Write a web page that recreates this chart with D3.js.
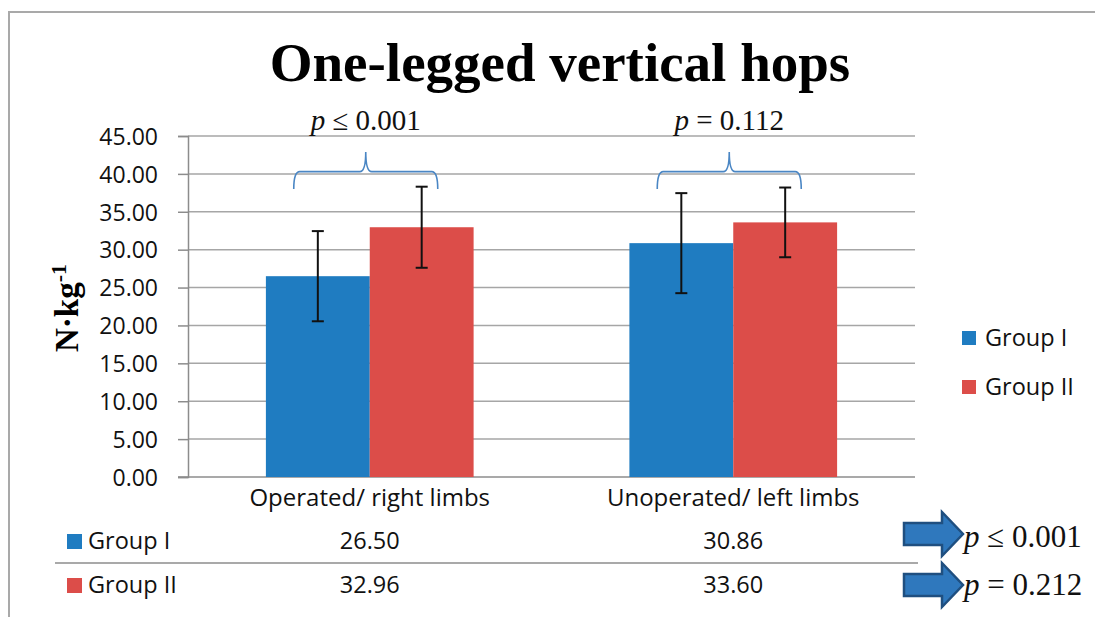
<!DOCTYPE html>
<html><head><meta charset="utf-8">
<script src="https://cdn.jsdelivr.net/npm/d3@7"></script>
<style>body{margin:0;background:#fff}svg{display:block}</style>
</head><body>
<svg id="c" width="1095" height="617"></svg>
<script>
// ---- data ----
const categories = ["Operated/ right limbs", "Unoperated/ left limbs"];
const seriesNames = ["Group I", "Group II"];
const groupI  = [26.50, 30.86];
const groupII = [32.96, 33.60];
const sdGroupI  = [5.95, 6.6];
const sdGroupII = [5.35, 4.6];
const yTicks = [0, 5, 10, 15, 20, 25, 30, 35, 40, 45];
const bracketLabels = ["p ≤ 0.001", "p = 0.112"];
const rowPLabels = ["p ≤ 0.001", "p = 0.212"];
const colors = ["#1f7cc1", "#dc4d49"];

const svg = d3.select("#c");
const M = {l:188, r:915, t:136, b:477};
const x = d3.scaleBand().domain(categories).range([M.l, M.r]).paddingInner(0).paddingOuter(0);
const sub = d3.scaleBand().domain(seriesNames).range([0, x.bandwidth()]).paddingOuter(0.75).paddingInner(0);
const y = d3.scaleLinear().domain([0, 45]).range([M.b, M.t]);
const values = [groupI, groupII];
const sds = [sdGroupI, sdGroupII];

// border
svg.append("path").attr("d","M9,617V12H1095").attr("fill","none").attr("stroke","#a9a9a9").attr("stroke-width",2);

// title
svg.append("text").attr("x",560).attr("y",81).attr("text-anchor","middle")
  .attr("font-family","Liberation Serif, serif").attr("font-weight","bold").attr("font-size",55)
  .text("One-legged vertical hops");

// gridlines
svg.append("g").selectAll("line").data(yTicks.filter(d=>d>0)).join("line")
  .attr("x1",M.l).attr("x2",M.r).attr("y1",d=>y(d)).attr("y2",d=>y(d))
  .attr("stroke","#a6a6a6").attr("stroke-width",1.5);

// y axis
const ya = svg.append("g").attr("transform",`translate(${M.l},0)`)
  .call(d3.axisLeft(y).tickValues(yTicks).tickFormat(d3.format(".2f")).tickSize(10).tickPadding(20));
ya.select(".domain").attr("stroke","#8c8c8c").attr("stroke-width",1.5);
ya.selectAll(".tick line").attr("stroke","#8c8c8c").attr("stroke-width",1.5);
ya.selectAll("text").attr("font-family","Open Sans, sans-serif").attr("font-size",23).attr("fill","#111").attr("dy","0.36em");

// x axis baseline
svg.append("line").attr("x1",M.l-10).attr("x2",M.r).attr("y1",M.b).attr("y2",M.b)
  .attr("stroke","#8c8c8c").attr("stroke-width",1.5);

// y label
svg.append("text").attr("transform","translate(78,308) rotate(-90)").attr("text-anchor","middle")
  .attr("font-family","Liberation Serif, serif").attr("font-weight","bold").attr("font-size",33)
  .html('N·kg<tspan dy="-12" font-size="22">-1</tspan>');

// bars
const gB = svg.append("g");
seriesNames.forEach((s,si)=>{
  gB.selectAll(".b"+si).data(categories).join("rect")
    .attr("x",c=>x(c)+sub(s)).attr("width",sub.bandwidth())
    .attr("y",(c,i)=>y(values[si][i])).attr("height",(c,i)=>y(0)-y(values[si][i]))
    .attr("fill",colors[si]);
});
// error bars
seriesNames.forEach((s,si)=>{
  categories.forEach((c,i)=>{
    const cx = x(c)+sub(s)+sub.bandwidth()/2;
    const hi = y(values[si][i]+sds[si][i]), lo = y(values[si][i]-sds[si][i]);
    const g = svg.append("g").attr("stroke","#111").attr("stroke-width",2);
    g.append("line").attr("x1",cx).attr("x2",cx).attr("y1",hi).attr("y2",lo);
    g.append("line").attr("x1",cx-6).attr("x2",cx+6).attr("y1",hi).attr("y2",hi);
    g.append("line").attr("x1",cx-6).attr("x2",cx+6).attr("y1",lo).attr("y2",lo);
  });
});

// braces
categories.forEach((c,i)=>{
  const cc = x(c)+x.bandwidth()/2;
  const x0 = cc-76, x1 = cc+68, xm = cc-4;
  const yE = y(38.0), yH = y(40.3), yP = y(42.9);
  const r = 6;
  const p = d3.path();
  p.moveTo(x0,yE);
  p.quadraticCurveTo(x0,yH,x0+r,yH);
  p.lineTo(xm-r,yH);
  p.quadraticCurveTo(xm,yH,xm,yP);
  p.quadraticCurveTo(xm,yH,xm+r,yH);
  p.lineTo(x1-r,yH);
  p.quadraticCurveTo(x1,yH,x1,yE);
  svg.append("path").attr("d",p.toString()).attr("fill","none").attr("stroke","#4a86c4").attr("stroke-width",1.6);
  const parts = bracketLabels[i].split(" ");
  const t = svg.append("text").attr("x",xm).attr("y",130).attr("text-anchor","middle")
    .attr("font-family","Liberation Serif, serif").attr("font-size",29).attr("fill","#111");
  t.append("tspan").attr("font-style","italic").text(parts[0]);
  t.append("tspan").text(" "+parts[1]+" "+parts[2]);
});

// category labels
svg.append("g").selectAll("text").data(categories).join("text")
  .attr("x",c=>x(c)+x.bandwidth()/2).attr("y",506).attr("text-anchor","middle")
  .attr("font-family","Open Sans, sans-serif").attr("font-size",24).attr("fill","#111").text(c=>c);

// legend
seriesNames.forEach((s,i)=>{
  const ly = 346 + i*49;
  svg.append("rect").attr("x",962).attr("y",ly-15).attr("width",14).attr("height",14).attr("fill",colors[i]);
  svg.append("text").attr("x",985).attr("y",ly).attr("font-family","Open Sans, sans-serif")
    .attr("font-size",23.5).attr("fill","#111").text(s);
});

// data table
svg.append("line").attr("x1",55).attr("x2",918).attr("y1",563).attr("y2",563).attr("stroke","#8c8c8c").attr("stroke-width",1.5);
seriesNames.forEach((s,i)=>{
  const by = 549 + i*44;
  svg.append("rect").attr("x",67).attr("y",by-15).attr("width",15).attr("height",15).attr("fill",colors[i]);
  svg.append("text").attr("x",88).attr("y",by).attr("font-family","Open Sans, sans-serif")
    .attr("font-size",23.5).attr("fill","#111").text(s);
  svg.append("g").selectAll("text").data(categories).join("text")
    .attr("x",c=>x(c)+x.bandwidth()/2).attr("y",by).attr("text-anchor","middle")
    .attr("font-family","Open Sans, sans-serif").attr("font-size",23.5).attr("fill","#111")
    .text((c,j)=>d3.format(".2f")(values[i][j]));
  // block arrow
  const ay = 534 + i*51;
  const ap = d3.path();
  ap.moveTo(904,ay-11); ap.lineTo(942,ay-11); ap.lineTo(942,ay-22); ap.lineTo(963,ay);
  ap.lineTo(942,ay+22); ap.lineTo(942,ay+11); ap.lineTo(904,ay+11); ap.closePath();
  svg.append("path").attr("d",ap.toString()).attr("fill","#2f78bd").attr("stroke","#1f4f80").attr("stroke-width",2.5).attr("stroke-linejoin","miter");
  const parts = rowPLabels[i].split(" ");
  const t = svg.append("text").attr("x",964).attr("y",547+i*48)
    .attr("font-family","Liberation Serif, serif").attr("font-size",31).attr("fill","#111");
  t.append("tspan").attr("font-style","italic").text(parts[0]);
  t.append("tspan").text(" "+parts[1]+" "+parts[2]);
});
</script>
</body></html>
